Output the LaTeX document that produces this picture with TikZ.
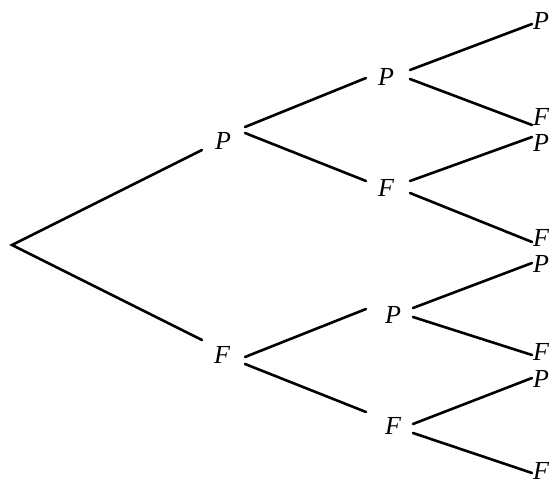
\documentclass[tikz,border=0pt]{standalone}
\usepackage{fontspec}
\setmainfont{Liberation Serif}
\begin{document}
\begin{tikzpicture}[x=1pt,y=-1pt,
  lbl/.style={inner sep=0pt,font=\fontsize{26}{28}\selectfont\itshape},
  br/.style={line width=2.6pt,line cap=round}]
\useasboundingbox (0,0) rectangle (550,486);
% nodes
\coordinate (R) at (12,245);
\node[lbl] (P1) at (223,141) {P};
\node[lbl] (F1) at (222,355) {F};
\node[lbl] (P2) at (386,77) {P};
\node[lbl] (F2) at (386,188) {F};
\node[lbl] (P3) at (393,315) {P};
\node[lbl] (F3) at (393,426) {F};
\node[lbl] (L1) at (541,21) {P};
\node[lbl] (L2) at (541,117) {F};
\node[lbl] (L3) at (541,143) {P};
\node[lbl] (L4) at (541,238) {F};
\node[lbl] (L5) at (541,264) {P};
\node[lbl] (L6) at (541,352) {F};
\node[lbl] (L7) at (541,379) {P};
\node[lbl] (L8) at (541,471) {F};
% branches
\draw[br] ([shift={(-21,9)}]P1.center) -- (R) -- ([shift={(-20,-15)}]F1.center);
\draw[br] ([shift={(22,-14)}]P1.center) -- ([shift={(-20,1)}]P2.center);
\draw[br] ([shift={(22,-8)}]P1.center) -- ([shift={(-20,-7)}]F2.center);
\draw[br] ([shift={(23,2)}]F1.center) -- ([shift={(-27,-6)}]P3.center);
\draw[br] ([shift={(23,9)}]F1.center) -- ([shift={(-27,-14)}]F3.center);
\draw[br] ([shift={(24,-7)}]P2.center) -- ([shift={(-9,3)}]L1.center);
\draw[br] ([shift={(24,2)}]P2.center) -- ([shift={(-9,8)}]L2.center);
\draw[br] ([shift={(24,-7)}]F2.center) -- ([shift={(-9,-6)}]L3.center);
\draw[br] ([shift={(24,5)}]F2.center) -- ([shift={(-9,4)}]L4.center);
\draw[br] ([shift={(20,-7)}]P3.center) -- ([shift={(-9,-1)}]L5.center);
\draw[br] ([shift={(20,2)}]P3.center) -- ([shift={(-9,3)}]L6.center);
\draw[br] ([shift={(20,-2)}]F3.center) -- ([shift={(-9,-1)}]L7.center);
\draw[br] ([shift={(20,7)}]F3.center) -- ([shift={(-9,2)}]L8.center);
\end{tikzpicture}
\end{document}
